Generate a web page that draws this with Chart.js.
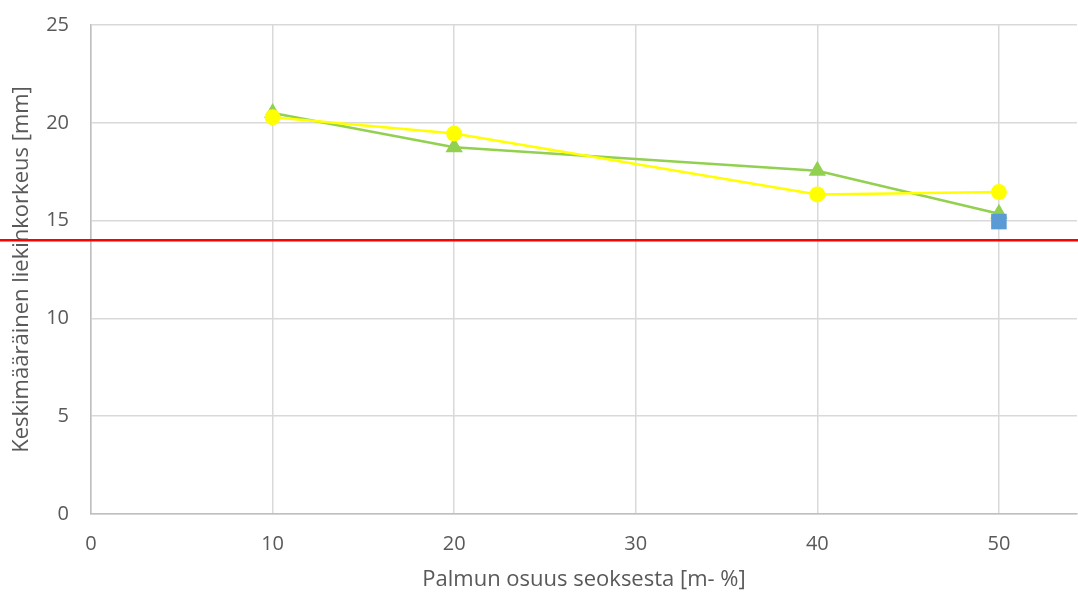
<!DOCTYPE html>
<html>
<head>
<meta charset="utf-8">
<script src="https://cdn.jsdelivr.net/npm/chart.js@4/dist/chart.umd.min.js"></script>
<style>
  html, body { margin: 0; padding: 0; background: #fff; }
  #wrap { width: 1078px; height: 597px; }
</style>
</head>
<body>
<div id="wrap"><canvas id="flame-chart" width="1078" height="597"></canvas></div>
<script>
// palmun osuus [m-%]
var xGreen = [10, 20, 40, 50];
var yGreen = [20.5, 18.75, 17.55, 15.35];

var xYellow = [10, 20, 40, 50];
var yYellow = [20.28, 19.45, 16.34, 16.46];

var xBlue = [50];
var yBlue = [14.95];

// raja-arvo
var limitValue = 14;
var limitX = [-10, 60];

var xTicks = [0, 10, 20, 30, 40, 50];
var yTicks = [0, 5, 10, 15, 20, 25];

function toPoints(xs, ys) {
	var out = [];
	for (var i = 0; i < xs.length; i++) out.push({ x: xs[i], y: ys[i] });
	return out;
}

Chart.defaults.font.family = "'Open Sans', sans-serif";
Chart.defaults.color = '#595959';

var ctx = document.getElementById('flame-chart').getContext('2d');
var myChart = new Chart(ctx, {
	type: 'scatter',
	data: {
		datasets: [
			{
				label: 'blue',
				data: toPoints(xBlue, yBlue),
				pointStyle: 'rect',
				pointRadius: 11,
				backgroundColor: '#5B9BD5',
				borderColor: '#5B9BD5',
				borderWidth: 0,
				showLine: false
			},
			{
				label: 'yellow',
				data: toPoints(xYellow, yYellow),
				pointStyle: 'circle',
				pointRadius: 8,
				backgroundColor: '#FFFF00',
				borderColor: '#FFFF00',
				pointBorderWidth: 0,
				borderWidth: 2.5,
				showLine: true
			},
			{
				label: 'green',
				data: toPoints(xGreen, yGreen),
				pointStyle: 'triangle',
				pointRadius: 10,
				backgroundColor: '#92D050',
				borderColor: '#92D050',
				pointBorderWidth: 0,
				borderWidth: 2.5,
				showLine: true
			},
			{
				label: 'raja',
				data: toPoints(limitX, [limitValue, limitValue]),
				pointRadius: 0,
				borderColor: '#FF0000',
				borderWidth: 2.5,
				showLine: true,
				clip: false
			}
		]
	},
	options: {
		responsive: false,
		animation: false,
		layout: { autoPadding: false, padding: { top: 25, right: 1, left: 0, bottom: 0 } },
		plugins: {
			legend: { display: false },
			tooltip: { enabled: false }
		},
		scales: {
			x: {
				type: 'linear',
				min: 0,
				max: 54.3,
				afterBuildTicks: function(s) { s.ticks = xTicks.map(function(v) { return { value: v }; }); },
				afterFit: function(s) { s.height = 83; s.paddingLeft = 0; s.paddingRight = 0; },
				grid: { color: '#D9D9D9', lineWidth: 1.5, drawTicks: false },
				border: { color: '#BFBFBF', width: 1.5 },
				ticks: { padding: 18, font: { size: 20 }, color: '#595959', maxRotation: 0 },
				title: {
					display: true,
					text: 'Palmun osuus seoksesta [m- %]',
					font: { size: 22 },
					color: '#595959',
					padding: { top: 8, bottom: 4 }
				}
			},
			y: {
				type: 'linear',
				min: 0,
				max: 25,
				afterBuildTicks: function(s) { s.ticks = yTicks.map(function(v) { return { value: v }; }); },
				afterFit: function(s) { s.width = 91; s.paddingTop = 0; s.paddingBottom = 0; },
				grid: { color: '#D9D9D9', lineWidth: 1.5, drawTicks: false },
				border: { color: '#BFBFBF', width: 1.5 },
				ticks: { padding: 22, font: { size: 20 }, color: '#595959' },
				title: {
					display: true,
					text: 'Keskimääräinen liekinkorkeus [mm]',
					font: { size: 22 },
					color: '#595959',
					padding: { top: 9, bottom: 0 }
				}
			}
		}
	}
});
</script>
</body>
</html>
